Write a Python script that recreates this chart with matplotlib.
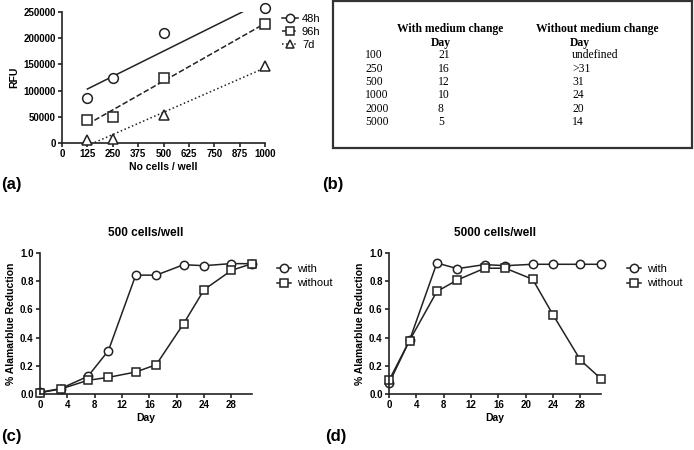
import numpy as np
import matplotlib.pyplot as plt
from matplotlib.patches import Rectangle

plt.rcParams['font.family'] = ['Liberation Sans', 'DejaVu Sans']

# (a) RFU vs cells per well
cells = np.array([125, 250, 500, 1000])
rfu_48h = np.array([85000, 125000, 210000, 257000])
rfu_96h = np.array([43000, 50000, 125000, 227000])
rfu_7d = np.array([5000, 8000, 53000, 147000])

# (b) table
tbl_cells = ['100', '250', '500', '1000', '2000', '5000']
tbl_with = ['21', '16', '12', '10', '8', '5']
tbl_without = ['undefined', '>31', '31', '24', '20', '14']

# (c)/(d) alamarblue time course
days = np.array([0, 3, 7, 10, 14, 17, 21, 24, 28, 31])
c500_with = np.array([0.012, 0.038, 0.125, 0.307, 0.843, 0.843, 0.917, 0.910, 0.925, 0.924])
c500_without = np.array([0.010, 0.035, 0.097, 0.118, 0.156, 0.208, 0.499, 0.740, 0.877, 0.924])
c5000_with = np.array([0.075, 0.380, 0.929, 0.889, 0.918, 0.910, 0.920, 0.920, 0.920, 0.920])
c5000_without = np.array([0.096, 0.379, 0.727, 0.809, 0.892, 0.892, 0.814, 0.560, 0.240, 0.108])

ink = '#222222'
fig = plt.figure(figsize=(6.94, 4.5), dpi=100)


def style(ax):
    ax.spines['top'].set_visible(False)
    ax.spines['right'].set_visible(False)
    for s in ['left', 'bottom']:
        ax.spines[s].set_color(ink)
        ax.spines[s].set_linewidth(1.2)
    ax.tick_params(direction='out', length=3, width=1.2, color=ink, labelsize=7, pad=1.5)
    for lab in ax.get_xticklabels() + ax.get_yticklabels():
        lab.set_fontweight('bold')


# ---- (a)
ax = fig.add_axes([62 / 694, 1 - 143 / 450, 203 / 694, 131 / 450])
xfit = np.linspace(125, 1000, 200)
series = [(rfu_48h, 'o', '-', '48h'), (rfu_96h, 's', '--', '96h'), (rfu_7d, '^', ':', '7d')]
handles = []
for y, m, ls, lab in series:
    # linear regression line, as in the original
    k, b = np.polyfit(cells, y, 1)
    ax.plot(xfit, k * xfit + b, ls=ls, color=ink, lw=1.1)
    ax.plot(cells, y, m, mfc='white', mec=ink, ms=7, mew=1.1, clip_on=False, zorder=3)
    h, = ax.plot([], [], ls=ls, marker=m, mfc='white', mec=ink, color=ink, ms=6, mew=1.1, lw=1.1, label=lab)
    handles.append(h)
ax.set_xlim(0, 1000)
ax.set_ylim(0, 250000)
ax.set_xticks(np.arange(0, 1001, 125))
ax.set_yticks(np.arange(0, 250001, 50000))
ax.set_ylabel('RFU', fontsize=7.5, fontweight='bold', labelpad=3)
ax.set_xlabel('No cells / well', fontsize=7.5, fontweight='bold', labelpad=2)
style(ax)
fig.legend(handles=handles, loc='upper left', bbox_to_anchor=(272 / 694, 1 - 4 / 450),
           frameon=False, fontsize=8, handlelength=1.4, handletextpad=0.4, labelspacing=0.25)

# ---- (b)
fig.patches.append(Rectangle((333 / 694, 1 - 148 / 450), 359 / 694, 147 / 450,
                             transform=fig.transFigure, fill=False, ec='#333333', lw=1.6))
serif = ['Liberation Serif', 'DejaVu Serif']
fig.text(450 / 694, 1 - 29 / 450, 'With medium change', ha='center', va='center',
         family=serif, fontsize=8.4, fontweight='bold')
fig.text(597 / 694, 1 - 29 / 450, 'Without medium change', ha='center', va='center',
         family=serif, fontsize=8.4, fontweight='bold')
fig.text(441 / 694, 1 - 43 / 450, 'Day', ha='center', va='center', family=serif, fontsize=8.4, fontweight='bold')
fig.text(580 / 694, 1 - 43 / 450, 'Day', ha='center', va='center', family=serif, fontsize=8.4, fontweight='bold')
for i in range(len(tbl_cells)):
    yy = 1 - (55 + i * 13.5) / 450
    fig.text(365 / 694, yy, tbl_cells[i], va='center', family=serif, fontsize=8.4)
    fig.text(438 / 694, yy, tbl_with[i], va='center', family=serif, fontsize=8.4)
    fig.text(572 / 694, yy, tbl_without[i], va='center', family=serif, fontsize=8.4)

# ---- (c) and (d)
panels = [(40, c500_with, c500_without, '500 cells/well', 267),
          (389, c5000_with, c5000_without, '5000 cells/well', 617)]
for left, yw, ywo, title, legx in panels:
    ax = fig.add_axes([left / 694, 1 - 394 / 450, 212 / 694, 141 / 450])
    hw, = ax.plot(days, yw, '-o', color=ink, mfc='white', mec=ink, ms=6, mew=1.1, lw=1.1,
                  clip_on=False, label='with')
    hwo, = ax.plot(days, ywo, '-s', color=ink, mfc='white', mec=ink, ms=6, mew=1.1, lw=1.1,
                   clip_on=False, label='without')
    ax.set_xlim(0, 31)
    ax.set_ylim(0, 1.0)
    ax.set_xticks(np.arange(0, 29, 4))
    ax.set_yticks(np.arange(0, 1.01, 0.2))
    ax.set_yticklabels([f'{v:.1f}' for v in np.arange(0, 1.01, 0.2)])
    ax.set_xlabel('Day', fontsize=7.5, fontweight='bold', labelpad=2)
    ax.set_ylabel('% Alamarblue Reduction', fontsize=7.5, fontweight='bold', labelpad=3)
    ax.set_title(title, fontsize=8.5, fontweight='bold', pad=12)
    style(ax)
    fig.legend(handles=[hw, hwo], loc='upper left', bbox_to_anchor=(legx / 694, 1 - 254 / 450),
               frameon=False, fontsize=8, handlelength=1.3, handletextpad=0.5, labelspacing=0.4)

# panel letters
for lab, x, y in [('(a)', 1, 185), ('(b)', 322, 185), ('(c)', 1, 436), ('(d)', 325, 436)]:
    fig.text(x / 694, 1 - y / 450, lab, fontsize=12, fontweight='bold', va='center')

fig.savefig('out.png', dpi=100)
